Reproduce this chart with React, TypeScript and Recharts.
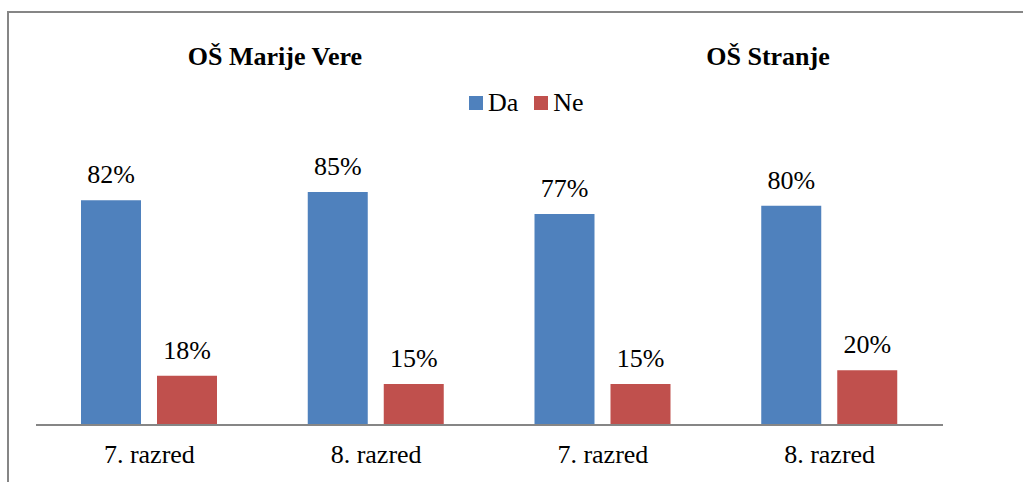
import { Bar, BarChart, LabelList, Legend, XAxis, YAxis } from "recharts";

const categories = ["7. razred", "8. razred", "7. razred", "8. razred"];
const daValues = [82, 85, 77, 80];
const neValues = [18, 15, 15, 20];
const schoolTitles = ["OŠ Marije Vere", "OŠ Stranje"];

const data = categories.map((name, i) => ({ name, da: daValues[i], ne: neValues[i] }));

const FONT = '"Times New Roman", "Liberation Serif", Tinos, "DejaVu Serif", serif';
const BLUE = "#4f81bd";
const RED = "#c0504d";
const GRID = "#868686";

function LegendBox({ payload }: { payload?: { value: string; color: string }[] }) {
  return (
    <div style={{ display: "flex", alignItems: "center", fontFamily: FONT, fontSize: 26, lineHeight: "30px", color: "#000" }}>
      {(payload ?? []).map((p, i) => (
        <div key={p.value} style={{ display: "flex", alignItems: "center", marginLeft: i ? 16 : 0 }}>
          <span style={{ width: 14, height: 14, background: p.color, display: "inline-block", marginRight: 5 }} />
          <span>{p.value}</span>
        </div>
      ))}
    </div>
  );
}

export default function App() {
  return (
    <div style={{ position: "absolute", left: 0, top: 0, width: 1023, height: 482, background: "#fff", fontFamily: FONT }}>
      <div
        style={{
          position: "absolute",
          left: 7,
          top: 11,
          right: 0,
          bottom: 0,
          borderTop: `2px solid ${GRID}`,
          borderLeft: `2px solid ${GRID}`,
        }}
      />
      {schoolTitles.map((t, i) => (
        <div
          key={t}
          style={{
            position: "absolute",
            left: (i === 0 ? 275 : 768) - 200,
            width: 400,
            top: 42,
            textAlign: "center",
            fontWeight: "bold",
            fontSize: 26,
            lineHeight: "30px",
            color: "#000",
            fontFamily: FONT,
          }}
        >
          {t}
        </div>
      ))}
      <div style={{ position: "absolute", left: 0, top: 0 }}>
        <BarChart
          width={1023}
          height={482}
          data={data}
          margin={{ top: 151, right: 80, bottom: 17, left: 36 }}
          barGap={16}
        >
          <XAxis
            dataKey="name"
            height={40}
            tickLine={false}
            axisLine={{ stroke: GRID, strokeWidth: 2 }}
            tick={{ fontSize: 26, fill: "#000", fontFamily: FONT }}
            tickMargin={14}
            interval={0}
          />
          <YAxis hide domain={[0, 100]} />
          <Legend
            verticalAlign="middle"
            align="center"
            layout="horizontal"
            wrapperStyle={{ top: 88, left: 469, width: "auto" }}
            content={(props: any) => <LegendBox payload={props.payload} />}
          />
          <Bar dataKey="da" name="Da" fill={BLUE} barSize={60} isAnimationActive={false}>
            <LabelList
              dataKey="da"
              position="top"
              offset={17}
              formatter={(v: any) => `${v}%`}
              fontSize={26}
              fill="#000"
              fontFamily={FONT}
            />
          </Bar>
          <Bar dataKey="ne" name="Ne" fill={RED} barSize={60} isAnimationActive={false}>
            <LabelList
              dataKey="ne"
              position="top"
              offset={17}
              formatter={(v: any) => `${v}%`}
              fontSize={26}
              fill="#000"
              fontFamily={FONT}
            />
          </Bar>
        </BarChart>
      </div>
    </div>
  );
}
